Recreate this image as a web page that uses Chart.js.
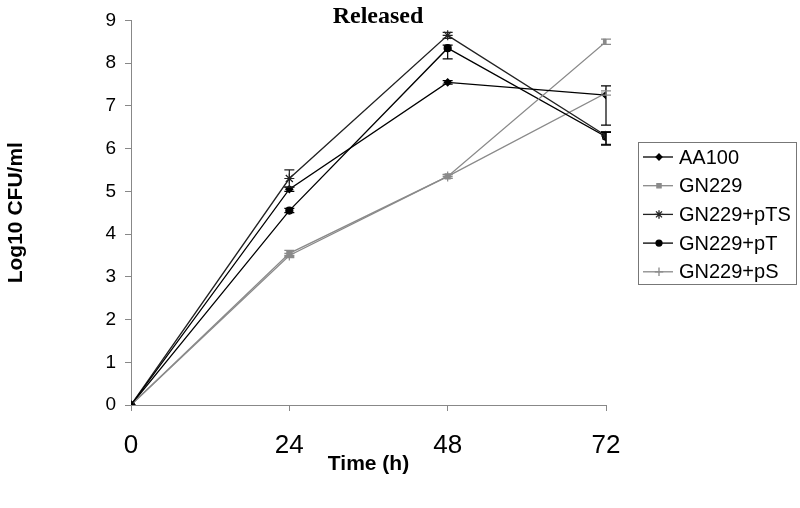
<!DOCTYPE html>
<html>
<head>
<meta charset="utf-8">
<script src="https://cdn.jsdelivr.net/npm/chart.js@4/dist/chart.umd.min.js"></script>
<style>
  body { margin: 0; background: #fff; }
</style>
</head>
<body>
<canvas id="chart" width="800" height="508"></canvas>
<script>
const hours = [0, 24, 48, 72];
const aa100 = [0, 5.05, 7.55, 7.25];
const gn229 = [0, 3.55, 5.35, 8.5];
const gn229pTS = [0, 5.3, 8.65, 6.3];
const gn229pT = [0, 4.55, 8.35, 6.28];
const gn229pS = [0, 3.5, 5.35, 7.3];
// error bars [down, up]
const aa100Err = [[0, 0], [0.05, 0.05], [0.04, 0.04], [0.7, 0.22]];
const gn229Err = [[0, 0], [0.07, 0.07], [0.05, 0.05], [0.06, 0.06]];
const gn229pTSErr = [[0, 0], [0.2, 0.2], [0.07, 0.07], [0.2, 0.1]];
const gn229pTErr = [[0, 0], [0.05, 0.05], [0.25, 0.07], [0.2, 0.1]];
const gn229pSErr = [[0, 0], [0.05, 0.05], [0.04, 0.04], [0.05, 0.05]];
const yTicks = [0, 1, 2, 3, 4, 5, 6, 7, 8, 9];

const GRAY = "#8a8a8a";

function series(label, vals, errs, color, style, radius) {
  return {
    label: label,
    data: hours.map((h, i) => ({ x: h, y: vals[i] })),
    errors: errs,
    borderColor: color,
    backgroundColor: color,
    borderWidth: 1.3,
    pointStyle: style,
    pointRadius: radius,
    pointBorderWidth: 1.2,
    pointBorderColor: color,
    pointBackgroundColor: color,
    tension: 0,
  };
}

const datasets = [
  series("AA100", aa100, aa100Err, "#000", "rectRot", 3.5),
  series("GN229", gn229, gn229Err, GRAY, "rect", 3.5),
  series("GN229+pTS", gn229pTS, gn229pTSErr, "#222", "star", 5),
  series("GN229+pT", gn229pT, gn229pTErr, "#000", "circle", 3.5),
  series("GN229+pS", gn229pS, gn229pSErr, GRAY, "cross", 5),
];

// error bars drawn through the scales
const errorBars = {
  id: "errorBars",
  afterDatasetsDraw(chart) {
    const ctx = chart.ctx;
    const xs = chart.scales.x, ys = chart.scales.y;
    ctx.save();
    ctx.lineWidth = 1.2;
    chart.data.datasets.forEach((ds) => {
      ctx.strokeStyle = ds.borderColor;
      ds.data.forEach((p, i) => {
        const e = ds.errors[i];
        if (!e[0] && !e[1]) return;
        const x = xs.getPixelForValue(p.x);
        const y1 = ys.getPixelForValue(p.y - e[0]);
        const y2 = ys.getPixelForValue(p.y + e[1]);
        ctx.beginPath();
        ctx.moveTo(x, y1); ctx.lineTo(x, y2);
        ctx.moveTo(x - 5, y1); ctx.lineTo(x + 5, y1);
        ctx.moveTo(x - 5, y2); ctx.lineTo(x + 5, y2);
        ctx.stroke();
      });
    });
    ctx.restore();
  },
};

// title and boxed legend
const extras = {
  id: "extras",
  afterDraw(chart) {
    const ctx = chart.ctx;
    ctx.save();
    ctx.fillStyle = "#000";
    ctx.font = "bold 24px 'Liberation Serif'";
    ctx.textAlign = "center";
    ctx.textBaseline = "middle";
    ctx.fillText("Released", 378, 17);

    const bx = 638, by = 142, bw = 158, bh = 142;
    ctx.strokeStyle = "#777";
    ctx.lineWidth = 1;
    ctx.strokeRect(bx + 0.5, by + 0.5, bw, bh);
    ctx.font = "20px 'Liberation Sans'";
    ctx.textAlign = "left";
    chart.data.datasets.forEach((ds, i) => {
      const y = by + 15 + i * 28.7;
      ctx.strokeStyle = ds.borderColor;
      ctx.lineWidth = 1.3;
      ctx.beginPath();
      ctx.moveTo(bx + 5, y); ctx.lineTo(bx + 35, y);
      ctx.stroke();
      ctx.fillStyle = ds.pointBackgroundColor;
      Chart.helpers.drawPoint(ctx, {
        pointStyle: ds.pointStyle,
        radius: ds.pointRadius * 0.85,
        borderWidth: 1.2,
      }, bx + 21, y);
      ctx.fillStyle = "#000";
      ctx.fillText(ds.label, bx + 41, y + 1);
    });
    ctx.restore();
  },
};

new Chart(document.getElementById("chart"), {
  type: "line",
  data: { datasets: datasets },
  options: {
    responsive: false,
    animation: false,
    layout: { padding: { left: 0, right: 194, top: 16, bottom: 30 } },
    plugins: { legend: { display: false }, tooltip: { enabled: false } },
    scales: {
      x: {
        type: "linear",
        min: 0,
        max: 72,
        afterFit: (s) => { s.height = 73; },
        ticks: {
          stepSize: 24,
          color: "#000",
          padding: 19,
          font: { family: "Liberation Sans", size: 26 },
        },
        grid: { drawOnChartArea: false, tickLength: 6, color: "#888" },
        border: { color: "#888" },
        title: {
          display: true,
          text: "Time (h)",
          color: "#000",
          padding: { top: 2, bottom: 1 },
          font: { family: "Liberation Sans", size: 21, weight: "bold" },
        },
      },
      y: {
        min: 0,
        max: 9,
        afterFit: (s) => { s.width = 131; },
        afterBuildTicks: (s) => { s.ticks = yTicks.map((v) => ({ value: v })); },
        ticks: {
          color: "#000",
          padding: 9,
          font: { family: "Liberation Sans", size: 19 },
        },
        grid: { drawOnChartArea: false, tickLength: 6, color: "#888" },
        border: { color: "#888" },
        title: {
          display: true,
          text: "Log10 CFU/ml",
          color: "#000",
          padding: { top: 4, bottom: 4 },
          font: { family: "Liberation Sans", size: 21, weight: "bold" },
        },
      },
    },
  },
  plugins: [errorBars, extras],
});
</script>
</body>
</html>
